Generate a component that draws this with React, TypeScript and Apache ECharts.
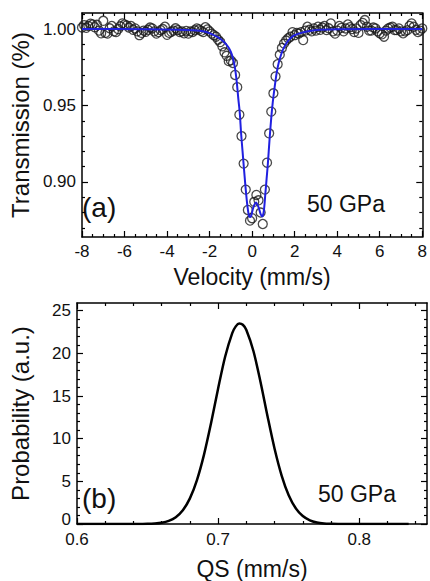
import React, { useEffect, useRef } from "react";
import * as echarts from "echarts";

// ---------- data ----------
// Panel (a): measured Mössbauer spectrum, [velocity mm/s, transmission]
const measured: [number, number][] = [
  [-8.0, 1.001], [-7.9, 1.0026], [-7.8, 1.0008], [-7.7, 1.002], [-7.6, 1.0035], [-7.5, 1.003], [-7.4, 1.0012], [-7.3, 1.0028], [-7.2, 0.999], [-7.1, 0.9972],
  [-7.0, 1.0054], [-6.9, 0.9975], [-6.8, 0.997], [-6.7, 1.0005], [-6.6, 1.002], [-6.5, 0.9985], [-6.4, 0.998], [-6.3, 1.0], [-6.2, 1.0018], [-6.1, 1.0037],
  [-6.0, 1.003], [-5.9, 1.0024], [-5.8, 1.001], [-5.7, 1.002], [-5.6, 0.9995], [-5.5, 1.0004], [-5.4, 0.9985], [-5.3, 0.996], [-5.2, 0.9975], [-5.1, 0.999],
  [-5.0, 0.9982], [-4.9, 0.9995], [-4.8, 1.001], [-4.7, 1.0004], [-4.6, 0.9985], [-4.5, 0.997], [-4.4, 0.998], [-4.3, 0.9993], [-4.2, 1.0], [-4.1, 1.0015],
  [-4.0, 0.9962], [-3.9, 0.9975], [-3.8, 0.9982], [-3.7, 0.999], [-3.6, 1.0005], [-3.5, 0.9993], [-3.4, 0.998], [-3.3, 0.9985], [-3.2, 0.9972], [-3.1, 0.9988],
  [-3.0, 0.997], [-2.9, 0.9985], [-2.8, 0.998], [-2.7, 0.9992], [-2.6, 1.0004], [-2.5, 0.9998], [-2.4, 0.9988], [-2.3, 0.998], [-2.2, 1.0012], [-2.1, 0.9998],
  [-2.0, 0.9985], [-1.9, 0.997], [-1.8, 0.996], [-1.7, 0.995], [-1.6, 0.993], [-1.5, 0.9915], [-1.4, 0.9887], [-1.3, 0.9848], [-1.2, 0.9825], [-1.1, 0.979],
  [-1.0, 0.9795], [-0.9, 0.9778], [-0.8, 0.97], [-0.7, 0.962], [-0.6, 0.944], [-0.5, 0.93], [-0.4, 0.912], [-0.3, 0.895], [-0.2, 0.8817], [-0.1, 0.8747],
  [0.0, 0.8763], [0.1, 0.887], [0.2, 0.8915], [0.3, 0.888], [0.4, 0.88], [0.5, 0.8725], [0.6, 0.895], [0.7, 0.9126], [0.8, 0.9318], [0.9, 0.946],
  [1.0, 0.958], [1.1, 0.969], [1.2, 0.977], [1.3, 0.9832], [1.4, 0.9876], [1.5, 0.9905], [1.6, 0.9925], [1.7, 0.994], [1.8, 0.995], [1.9, 0.998],
  [2.0, 0.996], [2.1, 0.9975], [2.2, 0.997], [2.3, 0.998], [2.4, 0.9928], [2.5, 0.999], [2.6, 1.0015], [2.7, 0.9995], [2.8, 0.9985], [2.9, 1.0004],
  [3.0, 0.999], [3.1, 1.0015], [3.2, 0.9995], [3.3, 1.001], [3.4, 1.002], [3.5, 0.9993], [3.6, 1.0005], [3.7, 1.0037], [3.8, 0.9985], [3.9, 0.997],
  [4.0, 0.999], [4.1, 1.002], [4.2, 1.0008], [4.3, 0.9985], [4.4, 1.0004], [4.5, 1.003], [4.6, 1.0012], [4.7, 1.0], [4.8, 0.998], [4.9, 1.0004],
  [5.0, 0.9975], [5.1, 1.0026], [5.2, 1.004], [5.3, 1.0059], [5.4, 1.0015], [5.5, 0.999], [5.6, 0.999], [5.7, 1.001], [5.8, 1.0004], [5.9, 0.9985],
  [6.0, 0.9972], [6.1, 0.9965], [6.2, 0.995], [6.3, 0.999], [6.4, 1.0004], [6.5, 1.001], [6.6, 1.0015], [6.7, 0.9993], [6.8, 0.9993], [6.9, 1.0004],
  [7.0, 0.9985], [7.1, 0.9972], [7.2, 0.9985], [7.3, 0.9993], [7.4, 1.002], [7.5, 1.0037], [7.6, 1.0015], [7.7, 0.9995], [7.8, 0.998], [7.9, 0.999],
  [8.0, 1.0004],
];

// Panel (a): fitted curve (blue)
const fitCurve: [number, number][] = [
  [-8.0, 1.0], [-5.0, 0.9999], [-3.5, 0.9996], [-2.8, 0.9992], [-2.3, 0.9985], [-1.9, 0.9967], [-1.6, 0.9945],
  [-1.4, 0.9925], [-1.25, 0.9905], [-1.1, 0.9878], [-1.0, 0.985], [-0.9, 0.9808], [-0.8, 0.974], [-0.72, 0.965],
  [-0.65, 0.9545], [-0.58, 0.945], [-0.52, 0.932], [-0.45, 0.92], [-0.38, 0.908], [-0.3, 0.895], [-0.22, 0.884],
  [-0.15, 0.878], [-0.1, 0.877], [-0.04, 0.878], [0.05, 0.883], [0.18, 0.8865], [0.3, 0.8835], [0.4, 0.879],
  [0.48, 0.8775], [0.55, 0.881], [0.62, 0.892], [0.68, 0.902], [0.74, 0.912], [0.82, 0.928], [0.9, 0.942],
  [0.97, 0.952], [1.05, 0.961], [1.15, 0.971], [1.25, 0.978], [1.38, 0.984], [1.5, 0.988], [1.65, 0.9915],
  [1.8, 0.994], [2.0, 0.996], [2.3, 0.9975], [2.7, 0.9988], [3.2, 0.9995], [4.0, 0.9999], [8.0, 1.0],
];

// Panel (b): QS probability distribution, [QS mm/s, probability]
const qsDistribution: [number, number][] = [
  [0.6, 0], [0.61, 0], [0.62, 0], [0.63, 0], [0.64, 0], [0.645, 0.01], [0.65, 0.02], [0.655, 0.06],
  [0.66, 0.15], [0.665, 0.37], [0.67, 0.8], [0.675, 1.61], [0.68, 3.0], [0.685, 5.15], [0.69, 8.13],
  [0.695, 11.83], [0.7, 15.88], [0.705, 19.63], [0.71, 22.37], [0.7125, 23.16], [0.715, 23.49],
  [0.7175, 23.35], [0.72, 22.74], [0.725, 20.28], [0.73, 16.68], [0.735, 12.63], [0.74, 8.82],
  [0.745, 5.68], [0.75, 3.37], [0.755, 1.84], [0.76, 0.93], [0.765, 0.43], [0.77, 0.18], [0.775, 0.07],
  [0.78, 0.03], [0.785, 0.01], [0.79, 0], [0.8, 0], [0.81, 0], [0.82, 0], [0.83, 0], [0.835, 0],
];

// Axis ticks
const velocityMajor = [-8, -6, -4, -2, 0, 2, 4, 6, 8];
const velocityMinor = [-7.5, -7, -6.5, -5.5, -5, -4.5, -3.5, -3, -2.5, -1.5, -1, -0.5, 0.5, 1, 1.5, 2.5, 3, 3.5, 4.5, 5, 5.5, 6.5, 7, 7.5];
const transMajor = [0.9, 0.95, 1.0];
const transMinor = [0.87, 0.88, 0.89, 0.91, 0.92, 0.93, 0.94, 0.96, 0.97, 0.98, 0.99, 1.01];
const qsMajor = [0.6, 0.7, 0.8];
const qsMinor = [0.62, 0.64, 0.66, 0.68, 0.72, 0.74, 0.76, 0.78, 0.82, 0.84];
const probMajor = [0, 5, 10, 15, 20, 25];
const probMinor = [1, 2, 3, 4, 6, 7, 8, 9, 11, 12, 13, 14, 16, 17, 18, 19, 21, 22, 23, 24];

const FONT = "Liberation Sans, Arial, sans-serif";
const INK = "#111";
const TICK_FONT = 17;

function axesFor(
  dim: "x" | "y",
  gridIndex: number,
  min: number,
  max: number,
  major: number[],
  minor: number[],
  fmt: (v: number) => string,
  name: string,
  nameGap: number,
  nameSize: number,
  labelMargin: number,
  rich?: any
) {
  const mainPos = dim === "x" ? "bottom" : "left";
  const mirrorPos = dim === "x" ? "top" : "right";
  const common = { type: "value", gridIndex, min, max, splitLine: { show: false } };
  const lineStyle = { color: "#000", width: 1.5 };
  const tickStyle = { color: "#000", width: 1.2 };
  return [
    {
      ...common,
      position: mainPos,
      name,
      nameLocation: "middle",
      nameGap,
      nameTextStyle: { fontFamily: FONT, fontSize: nameSize, color: INK },
      axisLine: { show: true, onZero: false, lineStyle },
      axisTick: { show: true, inside: true, length: 6, customValues: major, lineStyle: tickStyle },
      axisLabel: {
        show: true,
        customValues: major,
        formatter: fmt,
        fontFamily: FONT,
        fontSize: TICK_FONT,
        color: INK,
        margin: labelMargin,
        ...(rich ? { rich } : {}),
      },
    },
    {
      ...common,
      position: mainPos,
      axisLine: { show: false, onZero: false },
      axisTick: { show: true, inside: true, length: 3, customValues: minor, lineStyle: tickStyle },
      axisLabel: { show: false },
    },
    {
      ...common,
      position: mirrorPos,
      axisLine: { show: true, onZero: false, lineStyle },
      axisTick: { show: true, inside: true, length: 6, customValues: major, lineStyle: tickStyle },
      axisLabel: { show: false },
    },
    {
      ...common,
      position: mirrorPos,
      axisLine: { show: false, onZero: false },
      axisTick: { show: true, inside: true, length: 3, customValues: minor, lineStyle: tickStyle },
      axisLabel: { show: false },
    },
  ];
}

export default function App() {
  const ref = useRef<HTMLDivElement>(null);
  useEffect(() => {
    if (!ref.current) return;
    const chart = echarts.init(ref.current, null, { renderer: "svg" });
    const probRich = {
      lift: { fontFamily: FONT, fontSize: TICK_FONT, color: INK, padding: [0, 0, 10, 0] },
    };
    const option: any = {
      animation: false,
      backgroundColor: "#fff",
      grid: [
        { left: 75, right: 3, top: 13, bottom: 344 },
        { left: 75, right: 3, top: 303, bottom: 55 },
      ],
      xAxis: [
        ...axesFor("x", 0, -8, 8, velocityMajor, velocityMinor, (v) => String(v), "Velocity (mm/s)", 28, 23, 6),
        ...axesFor("x", 1, 0.6, 0.848, qsMajor, qsMinor, (v) => v.toFixed(1), "QS (mm/s)", 33, 23, 7),
      ],
      yAxis: [
        ...axesFor("y", 0, 0.864, 1.0105, transMajor, transMinor, (v) => v.toFixed(2), "Transmission (%)", 45, 24, 6),
        ...axesFor(
          "y", 1, 0, 25.9, probMajor, probMinor,
          (v) => (v === 0 ? "{lift|0}" : String(v)),
          "Probability (a.u.)", 45, 24, 6, probRich
        ),
      ],
      series: [
        {
          type: "scatter",
          xAxisIndex: 0,
          yAxisIndex: 0,
          data: measured,
          symbol: "circle",
          symbolSize: 9,
          itemStyle: { color: "rgba(0,0,0,0)", borderColor: "#1a1a1a", borderWidth: 1.3 },
          z: 2,
        },
        {
          type: "line",
          xAxisIndex: 0,
          yAxisIndex: 0,
          data: fitCurve,
          showSymbol: false,
          smooth: 0.3,
          lineStyle: { color: "#2020e0", width: 2 },
          z: 3,
        },
        {
          type: "line",
          xAxisIndex: 4,
          yAxisIndex: 4,
          data: qsDistribution,
          showSymbol: false,
          smooth: 0.3,
          lineStyle: { color: "#000", width: 2.5 },
          z: 3,
        },
      ],
      graphic: [
        { type: "text", x: 82, y: 207, style: { text: "(a)", fontFamily: FONT, fontSize: 28, fill: INK, align: "left", verticalAlign: "middle" } },
        { type: "text", x: 307, y: 204, style: { text: "50 GPa", fontFamily: FONT, fontSize: 23, fill: INK, align: "left", verticalAlign: "middle" } },
        { type: "text", x: 82, y: 498, style: { text: "(b)", fontFamily: FONT, fontSize: 28, fill: INK, align: "left", verticalAlign: "middle" } },
        { type: "text", x: 318, y: 494, style: { text: "50 GPa", fontFamily: FONT, fontSize: 23, fill: INK, align: "left", verticalAlign: "middle" } },
      ],
    };
    chart.setOption(option);
    return () => chart.dispose();
  }, []);
  return <div ref={ref} style={{ width: 430, height: 581, position: "fixed", left: 0, top: 0, background: "#fff" }} />;
}
